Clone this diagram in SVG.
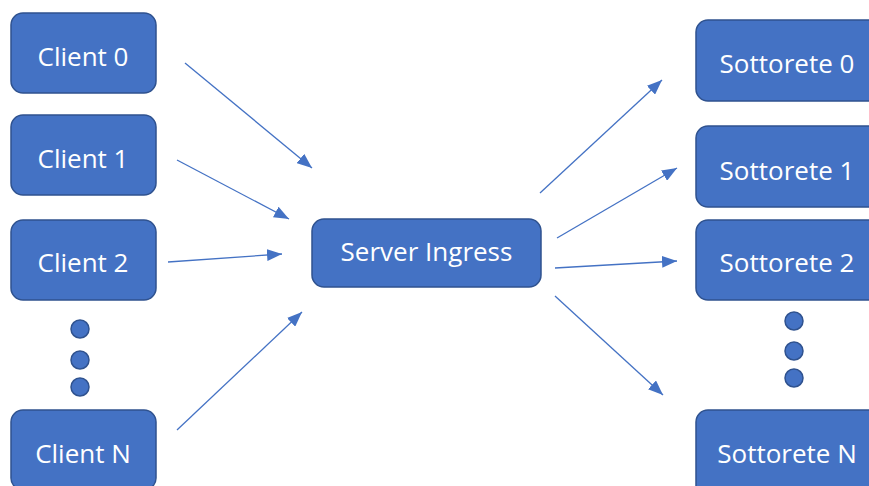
<svg xmlns="http://www.w3.org/2000/svg" width="869" height="486" viewBox="0 0 869 486">
<defs>
<style>
.box{fill:#4472C4;stroke:#2F528F;stroke-width:1.5}
.lbl{fill:#fff;font-family:"Open Sans","Liberation Sans",sans-serif;font-size:26px;text-anchor:middle}
.dot{fill:#4472C4;stroke:#2F528F;stroke-width:1.5}
.conn{stroke:#4472C4;stroke-width:1.3;fill:none;marker-end:url(#ah)}
</style>
<marker id="ah" markerUnits="userSpaceOnUse" markerWidth="16" markerHeight="12" refX="15" refY="6" orient="auto">
<path d="M0,0 L15,6 L0,12 Z" fill="#4472C4"/>
</marker>
</defs>
<rect width="869" height="486" fill="#fff"/>
<g id="client0"><rect class="box" x="11" y="13" width="145" height="80" rx="12"/><text class="lbl" x="83" y="66">Client 0</text></g>
<g id="client1"><rect class="box" x="11" y="115" width="145" height="80" rx="12"/><text class="lbl" x="83" y="168">Client 1</text></g>
<g id="client2"><rect class="box" x="11" y="220" width="145" height="80" rx="12"/><text class="lbl" x="83" y="272">Client 2</text></g>
<g id="clientdots"><circle class="dot" cx="80" cy="329" r="9"/><circle class="dot" cx="80" cy="360" r="9"/><circle class="dot" cx="80" cy="387" r="9"/></g>
<g id="clientN"><rect class="box" x="11" y="410" width="145" height="80" rx="12"/><text class="lbl" x="83" y="463">Client N</text></g>
<g id="server"><rect class="box" x="312" y="219" width="229" height="68" rx="12"/><text class="lbl" x="426.5" y="261">Server Ingress</text></g>
<g id="sub0"><rect class="box" x="696" y="20" width="190" height="81" rx="12"/><text class="lbl" x="787" y="73">Sottorete 0</text></g>
<g id="sub1"><rect class="box" x="696" y="126" width="190" height="81" rx="12"/><text class="lbl" x="787" y="180">Sottorete 1</text></g>
<g id="sub2"><rect class="box" x="696" y="220" width="190" height="80" rx="12"/><text class="lbl" x="787" y="272">Sottorete 2</text></g>
<g id="subdots"><circle class="dot" cx="794" cy="321" r="9"/><circle class="dot" cx="794" cy="351" r="9"/><circle class="dot" cx="794" cy="378" r="9"/></g>
<g id="subN"><rect class="box" x="696" y="410" width="190" height="90" rx="12"/><text class="lbl" x="787" y="463">Sottorete N</text></g>
<g id="connectors">
<line class="conn" x1="185" y1="63" x2="312" y2="168"/>
<line class="conn" x1="177" y1="160" x2="289" y2="219"/>
<line class="conn" x1="168" y1="262" x2="282" y2="254"/>
<line class="conn" x1="177" y1="430" x2="302" y2="312"/>
<line class="conn" x1="540" y1="193" x2="662" y2="80"/>
<line class="conn" x1="557" y1="238" x2="677" y2="168"/>
<line class="conn" x1="555" y1="268" x2="677" y2="261"/>
<line class="conn" x1="555" y1="296" x2="663" y2="395"/>
</g>
</svg>
